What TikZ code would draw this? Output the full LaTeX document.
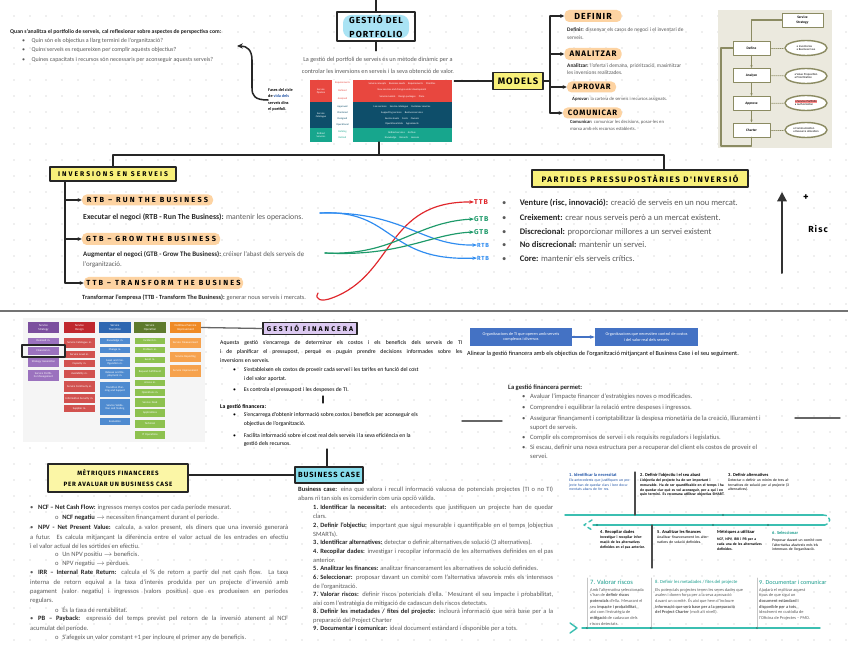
\documentclass[tikz,border=0pt]{standalone}
\usepackage{fontspec}
\setmainfont{Carlito}
\newfontfamily\hand[LetterSpace=12]{Fira Sans}
\usetikzlibrary{arrows.meta,shapes.geometric}
\newcommand{\fsz}[2]{\fontsize{#1}{#2}\selectfont}
\newcommand{\kw}[1]{\textbf{\color{black!85}#1}}
\newcommand{\bul}[1]{\makebox[#1][l]{\textbullet}}
\newcommand{\hb}[1]{\hangindent=#1\hangafter=1\noindent\makebox[#1][l]{\textbullet}}
\newcommand{\wide}{\addfontfeature{LetterSpace=30}}
\definecolor{dotgray}{HTML}{BDBDBD}
\definecolor{peach}{HTML}{FDD3A2}
\definecolor{hlyellow}{HTML}{F8F07A}
\definecolor{paleyellow}{HTML}{FBF6A6}
\definecolor{skyfill}{HTML}{A9E3F4}
\definecolor{lavfill}{HTML}{DCC9F1}
\definecolor{cyanfill}{HTML}{86DCEB}
\definecolor{txtgray}{HTML}{5A5A5A}
\definecolor{pfred}{HTML}{E8473F}
\definecolor{pfnavy}{HTML}{0E4E6A}
\definecolor{pfgreen}{HTML}{17A68D}
\definecolor{beige}{HTML}{EBE9DE}
\definecolor{olive}{HTML}{8B8B62}
\definecolor{tlteal}{HTML}{3BBFB1}
\definecolor{tlhead}{HTML}{1A9C8C}
\definecolor{tlblue}{HTML}{2356A8}
\definecolor{boxblue}{HTML}{4472C4}
\definecolor{rtbblue}{HTML}{2F8CF0}
\definecolor{gtbgreen}{HTML}{1E9A6A}
\definecolor{ttbred}{HTML}{E0262B}
\definecolor{stratD}{HTML}{7B4F9E}
\definecolor{stratL}{HTML}{9B72BE}
\definecolor{desD}{HTML}{C0282E}
\definecolor{desL}{HTML}{D2524F}
\definecolor{trD}{HTML}{2E67B1}
\definecolor{trL}{HTML}{4F8BD0}
\definecolor{opD}{HTML}{5E7A2C}
\definecolor{opL}{HTML}{8DC14F}
\definecolor{csiD}{HTML}{EF8A25}
\definecolor{csiL}{HTML}{F6A24D}
\tikzset{
  conn/.style={line width=1.1pt, draw=black!85},
  tip/.style={-{Stealth[length=3.5pt,width=3.2pt]}},
  hbox/.style={draw=black!85, line width=1.4pt, inner sep=0pt, align=center},
  pill/.style={fill=peach, rounded corners=4pt, inner sep=0pt},
  txt/.style={anchor=west, inner sep=0pt, text=txtgray, align=left},
  parblk/.style={anchor=north west, inner sep=0pt, text=txtgray, align=justify},
  lbl/.style={anchor=west, inner sep=0pt, font=\hand\bfseries\fsz{6}{6}},
  pftxt/.style={inner sep=0pt, align=center, font=\fsz{2.2}{2.6}},
  mbox/.style={draw=olive, line width=0.8pt, fill=white, inner sep=0pt, align=center,
    font=\bfseries\fsz{3}{3.6}, minimum height=0.42cm},
  mell/.style={ellipse, draw=olive, line width=1.2pt, fill=white, inner sep=0pt, align=left,
    font=\fsz{2.5}{3}, minimum width=1.26cm, minimum height=0.45cm},
  itilhd/.style={inner sep=0pt, align=center, text=white, font=\fsz{2.6}{3},
    minimum height=0.33cm, text width=0.95cm},
  itilit/.style={inner sep=0.3pt, align=center, text=white, font=\fsz{2.4}{2.8}, text width=0.88cm},
  tlhd/.style={anchor=west, inner sep=0pt, text=tlhead, font=\bfseries\fsz{3.8}{4.5}},
  tlbody/.style={anchor=north west, inner sep=0pt, align=left, font=\fsz{3.2}{3.9}},
}
\begin{document}
\begin{tikzpicture}[x=0.03cm,y=-0.03cm,line cap=round,line join=round]
\useasboundingbox (0,0) rectangle (848,656);
\fill[white] (0,0) rectangle (848,656);
% dotted paper
\foreach \i in {0,...,52}
  \foreach \j in {1,...,40}
    \fill[dotgray] ({14+16*\i},{16*\j}) circle (0.5pt);

% ===== gestio del portfolio
\node[txt, font=\bfseries\fsz{4.9}{5}, text=black!85] (qhead) at (10,32)
  {Quan s'analitza el portfolio de serveis, cal reflexionar sobre aspectes de perspectiva com:};
\node[txt, font=\fsz{5.1}{5}] (q1) at (22,41) {\bul{8pt}Quin són els objectius a llarg termini de l'organització?};
\node[txt, font=\fsz{5.1}{5}] (q2) at (22,50) {\bul{8pt}Quins serveis es requereixen per complir aquests objectius?};
\node[txt, font=\fsz{5.1}{5}] (q3) at (22,60) {\bul{8pt}Quines capacitats i recursos són necessaris per aconseguir aquests serveis?};
\coordinate (qarrow) at (237,46);

\fill[skyfill, rounded corners=7pt] (343,15) rectangle (409,38);
\node[hbox, minimum width=2.34cm, minimum height=0.87cm, font=\hand\bfseries\fsz{7.5}{12}] (gpbox)
  at (376,26.5) {GESTIÓ DEL\\PORTFOLIO};
\coordinate (gptop) at (376,0);
\draw[conn] (gptop) -- (gpbox.north);
\draw[conn] (gpbox.south) -- ++(0,9);
\node[inner sep=0pt, align=center, text=txtgray, font=\fsz{5.3}{10.2}] (pfintro) at (378,65)
  {La gestió del portfoli de serveis és un mètode dinàmic per a\\controlar les inversions en serveis i la seva obtenció de valor.};

\node[txt, text=black, font=\bfseries\fsz{3.6}{5.6}] (pfnote) at (268,100)
  {Fases del cicle\\de \textcolor{tlblue}{vida dels}\\serveis dins\\el portfoli.};
\draw[conn, line width=1.3pt, -{Stealth[length=5pt,width=4.5pt]}] (pfnote.west)
  .. controls (255,100) and (252,96) .. (252,88) -- (252,60)
  .. controls (252,50) and (247,46) .. (qarrow);

% portfolio table
\fill[pfred] (310,80) rectangle (332,102);
\fill[pfred] (353,80) rectangle (452,102);
\fill[pfnavy] (310,102) rectangle (332,128);
\fill[pfnavy] (353,102) rectangle (452,128);
\fill[pfgreen] (310,128) rectangle (332,142);
\fill[pfgreen] (353,128) rectangle (452,142);
\fill[white] (333,80) rectangle (352,142);
\node[pftxt, text=white] (pfpipe) at (321,91) {Service\\Pipeline};
\node[pftxt, text=white] (pfcat) at (321,115) {Service\\Catalogue};
\node[pftxt, text=white] (pfret) at (321,135) {Retired\\Services};
\node[pftxt, text=pfred] (st1) at (342.5,83) {Requirements};
\node[pftxt, text=pfred] (st2) at (342.5,91) {Defined};
\node[pftxt, text=pfred] (st3) at (342.5,99) {Analysed};
\node[pftxt, text=pfnavy] (st4) at (342.5,107) {Approved};
\node[pftxt, text=pfnavy] (st5) at (342.5,113) {Chartered};
\node[pftxt, text=pfnavy] (st6) at (342.5,119) {Designed};
\node[pftxt, text=pfnavy] (st7) at (342.5,125) {Operational};
\node[pftxt, text=pfgreen] (st8) at (342.5,132) {Retiring};
\node[pftxt, text=pfgreen] (st9) at (342.5,138) {Retired};
\node[pftxt, text=white] (pr1) at (402,84) {Service concepts \quad Business needs \quad Requirements \quad Priorities};
\node[pftxt, text=white] (pr2) at (402,90) {New services and changes under development};
\node[pftxt, text=white] (pr3) at (402,97) {Service models \quad Design packages \quad Plans};
\node[pftxt, text=white] (pr4) at (402,107) {Live services \quad Service catalogue \quad Customer services};
\node[pftxt, text=white] (pr5) at (402,113) {Supporting services \quad Business services};
\node[pftxt, text=white] (pr6) at (402,119) {Service levels \quad Costs \quad Owners};
\node[pftxt, text=white] (pr7) at (402,124) {Operational data \quad Agreements};
\node[pftxt, text=white] (pr8) at (402,133) {Retired services \quad Archive};
\node[pftxt, text=white] (pr9) at (402,138) {Knowledge \quad Records \quad Lessons};

% ===== models
\node[hbox, fill=hlyellow, minimum width=1.5cm, minimum height=0.51cm, font=\hand\bfseries\fsz{8}{9}] (models)
  at (518,81) {MODELS};
\coordinate (mbrk) at (550,81);
\draw[conn] (pfintro.east |- models.west) -- (models.west);
\draw[conn] (models.east) -- (mbrk);
\node[pill, minimum width=1.71cm, minimum height=0.36cm, font=\hand\bfseries\fsz{7.5}{8}] (pdef) at (593,16) {DEFINIR};
\node[pill, minimum width=1.71cm, minimum height=0.36cm, font=\hand\bfseries\fsz{6.8}{7}] (pana) at (593,54) {ANALITZAR};
\node[pill, minimum width=1.47cm, minimum height=0.33cm, font=\hand\bfseries\fsz{6.6}{7}] (papr) at (591.5,87) {APROVAR};
\node[pill, minimum width=1.77cm, minimum height=0.33cm, font=\hand\bfseries\fsz{6.6}{7}] (pcom) at (592.5,113) {COMUNICAR};
\draw[conn] (mbrk |- pdef.west) -- (mbrk |- pcom.west);
\foreach \n in {pdef,pana,papr,pcom}
  \draw[conn,tip] (mbrk |- \n.west) -- (\n.west);
\node[txt, font=\fsz{4.6}{6.2}] (ddef) at (567,33.5) {\kw{Definir:} dissenyar els casos de negoci i el inventari de\\serveis.};
\node[txt, font=\fsz{4.6}{6.2}] (dana) at (567,69) {\kw{Analitzar:} l'oferta i demana, priorització, maximitzar\\les inversions realitzades.};
\node[txt, font=\fsz{4}{5.5}] (dapr) at (572,99) {\kw{Aprovar:} la cartera de serveis i recursos assignats.};
\node[txt, font=\fsz{4}{5.5}] (dcom) at (570,125.5) {\kw{Comunicar:} comunicar les decisions, posar-les en\\marxa amb els recursos establerts.};

% model diagram
\fill[beige] (718,10) rectangle (832,148);
\node[mbox, minimum width=1.23cm] (mstrat) at (802.5,20) {Service\\Strategy};
\node[mbox, minimum width=1.11cm] (mdef) at (751.5,48) {Define};
\node[mbox, minimum width=1.11cm] (mana) at (751.5,75.5) {Analyze};
\node[mbox, minimum width=1.11cm] (mapp) at (751.5,103.5) {Approve};
\node[mbox, minimum width=1.11cm] (mcha) at (751.5,130) {Charter};
\node[mell] (edef) at (806,48) {\textbullet{} Inventories\\\textbullet{} Business Case};
\node[mell] (eana) at (806,76) {\textbullet{} Value Proposition\\\textbullet{} Prioritization};
\node[mell] (eapp) at (806,103) {{\setlength{\fboxsep}{0.3pt}\colorbox{red!45}{\textbullet{} Service Portfolio}}\\\textbullet{} Authorization};
\node[mell] (echa) at (806,130) {\textbullet{} Communication\\\textbullet{} Resource allocation};
\draw[olive, line width=1.6pt] (mstrat.west) -| (mdef.north);
\draw[olive, line width=1.6pt] (mcha.south) |- (721,146) |- (mdef.west);
\draw[olive, line width=1pt, -{Stealth[length=2.5pt]}] (mdef) -- (mana);
\draw[olive, line width=1pt, -{Stealth[length=2.5pt]}] (mana) -- (mapp);
\draw[olive, line width=1pt, -{Stealth[length=2.5pt]}] (mapp) -- (mcha);
\foreach \a/\b in {mdef/edef,mana/eana,mapp/eapp,mcha/echa}
  \draw[olive, line width=0.7pt, densely dotted] (\a) -- (\b);

% ===== inversions
\coordinate (hub) at (379,155);
\coordinate (pfbot) at (379,142);
\coordinate (partin) at (664,170);
\node[hbox, fill=hlyellow, minimum width=3.78cm, minimum height=0.42cm, font=\hand\bfseries\wide\fsz{5.8}{6}] (invbox)
  at (113,174) {INVERSIONS EN SERVEIS};
\node[hbox, fill=hlyellow, minimum width=6.48cm, minimum height=0.51cm, font=\hand\bfseries\addfontfeature{LetterSpace=20}\fsz{6.8}{7}] (partbox)
  at (640,178.5) {PARTIDES PRESSUPOSTÀRIES D'INVERSIÓ};
\draw[conn] (pfbot) -- (hub);
\draw[conn] (invbox.north) |- (hub) -| (partin);

\coordinate (ibrk) at (65,181);
\node[pill, minimum width=3.93cm, minimum height=0.33cm, font=\hand\bfseries\wide\fsz{6.3}{7}] (prtb) at (147.5,200) {RTB – RUN THE BUSINESS};
\node[pill, minimum width=4.14cm, minimum height=0.36cm, font=\hand\bfseries\wide\fsz{6.3}{7}] (pgtb) at (151,239) {GTB – GROW THE BUSINESS};
\node[pill, minimum width=4.77cm, minimum height=0.36cm, font=\hand\bfseries\wide\fsz{6.3}{7}] (pttb) at (163.5,283) {TTB – TRANSFORM THE BUSINES};
\draw[conn] (ibrk) -- (ibrk |- pttb.west);
\foreach \n in {prtb,pgtb,pttb}
  \draw[conn,tip] (ibrk |- \n.west) -- (\n.west);
\node[txt, font=\fsz{6.6}{7}] (drtb) at (83,217) {\kw{Executar el negoci (RTB - Run The Business):} mantenir les operacions.};
\node[txt, font=\fsz{5.9}{8.5}] (dgtb) at (83,260) {\kw{Augmentar el negoci (GTB - Grow The Business):} créixer l'abast dels serveis de\\l'organització.};
\node[txt, font=\fsz{5.4}{6}] (dttb) at (82,298) {\kw{Transformar l'empresa (TTB - Transform The Business):} generar nous serveis i mercats.};

\coordinate (rtbend) at (320,213);
\coordinate (gtbend) at (325,253);
\coordinate (ttbend) at (318,293);
\node[lbl, text=ttbred] (lttb) at (474,202) {TTB};
\node[lbl, text=gtbgreen] (lgtb1) at (474,219) {GTB};
\node[lbl, text=gtbgreen] (lgtb2) at (474,232) {GTB};
\node[lbl, text=rtbblue, font=\hand\bfseries\fsz{5}{5}] (lrtb1) at (477,245) {RTB};
\node[lbl, text=rtbblue, font=\hand\bfseries\fsz{5}{5}] (lrtb2) at (477,258) {RTB};
\draw[ttbred, line width=1pt, -{Stealth[length=4pt]}] (ttbend) .. controls (314,300) and (322,302) .. (332,298)
  .. controls (395,275) and (385,201) .. (lttb.west);
\draw[rtbblue, line width=1pt, -{Stealth[length=4pt]}] (rtbend) .. controls (395,209) and (385,262) .. (lrtb2.west);
\draw[rtbblue, line width=1pt, -{Stealth[length=4pt]}] (rtbend) .. controls (405,211) and (420,246) .. (lrtb1.west);
\draw[gtbgreen, line width=1pt, -{Stealth[length=4pt]}] (gtbend) .. controls (395,256) and (415,222) .. (lgtb1.west);
\draw[gtbgreen, line width=1pt, -{Stealth[length=4pt]}] (gtbend) .. controls (400,257) and (430,234) .. (lgtb2.west);

\node[txt, font=\fsz{7.3}{8}] (bven) at (502,203) {\bul{15pt}\kw{Venture (risc, innovació):} creació de serveis en un nou mercat.};
\node[txt, font=\fsz{7.3}{8}] (bcre) at (502,218) {\bul{15pt}\kw{Creixement:} crear nous serveis però a un mercat existent.};
\node[txt, font=\fsz{7.3}{8}] (bdis) at (502,232) {\bul{15pt}\kw{Discrecional:} proporcionar millores a un servei existent};
\node[txt, font=\fsz{7.3}{8}] (bnod) at (502,245) {\bul{15pt}\kw{No discrecional:} mantenir un servei.};
\node[txt, font=\fsz{7.3}{8}] (bcor) at (502,259) {\bul{15pt}\kw{Core:} mantenir els serveis crítics.};

\coordinate (riscbot) at (782,273);
\coordinate (risctop) at (782,192);
\draw[black!80, line width=1.7pt, -{Triangle[length=8pt,width=8pt]}] (riscbot) -- (risctop);
\node[inner sep=0pt, font=\hand\bfseries\fsz{9}{9}] (plus) at (806,198) {+};
\node[inner sep=0pt, font=\hand\bfseries\fsz{7.5}{8}] (risc) at (818,229) {Risc};

% ===== separator
\draw[black!55, line width=2.3pt] (0,311) -- (848,311);

% ===== ITIL table
\fill[gray!8] (23,318) rectangle (205,442);
\node[itilhd, fill=stratD] (hstr) at (43.5,327.5) {Service\\Strategy};
\node[itilhd, fill=desD] (hdes) at (79.5,327.5) {Service\\Design};
\node[itilhd, fill=trD] (htra) at (115,327.5) {Service\\Transition};
\node[itilhd, fill=opD] (hope) at (150,327.5) {Service\\Operation};
\node[itilhd, fill=csiD] (hcsi) at (185.5,327.5) {Continual Service\\Improvement};
\foreach \ya/\yb/\t [count=\k] in {338/344/Demand m., 347/355/Financial m., 357/367/Strategy Generation,
    370/381/Service Portfolio Management}
  \node[itilit, fill=stratL, minimum height={(\yb-\ya)*0.03cm}] (istr\k) at (43.5,{(\ya+\yb)/2}) {\t};
\foreach \ya/\yb/\t [count=\k] in {338/348/Service Catalogue m., 351/358/Service Level m., 360/367/Capacity m.,
    370/378/Availability m., 381/392/Service Continuity m., 394/403/Information Security m., 405/412/Supplier m.}
  \node[itilit, fill=desL, minimum height={(\yb-\ya)*0.03cm}] (ides\k) at (79.5,{(\ya+\yb)/2}) {\t};
\foreach \ya/\yb/\t [count=\k] in {338/344/Knowledge m., 347/353/Change m., 357/367/Asset and Configuration m.,
    369/379/Release and Deployment m., 382/397/Transition Planning and Support,
    399/415/Service Validation and Testing, 418/425/Evaluation}
  \node[itilit, fill=trL, minimum height={(\yb-\ya)*0.03cm}] (itra\k) at (115,{(\ya+\yb)/2}) {\t};
\foreach \ya/\yb/\t [count=\k] in {338/344/Incident m., 347/353/Problem m., 357/363/Event m.,
    367/377/Request Fulfillment, 380/386/Access m., 389/396/Operations m., 398/407/Service Desk,
    409/417/Applications, 420/428/Technical, 431/439/IT Operations}
  \node[itilit, fill=opL, minimum height={(\yb-\ya)*0.03cm}] (iope\k) at (150,{(\ya+\yb)/2}) {\t};
\foreach \ya/\yb/\t [count=\k] in {338/348/Service Measurement, 352/362/Service Reporting, 365/377/Service Improvement}
  \node[itilit, fill=csiL, minimum height={(\yb-\ya)*0.03cm}] (icsi\k) at (185.5,{(\ya+\yb)/2}) {\t};
\draw[black!85, line width=1pt] (22,345) rectangle (65,357);

% ===== gestio financera
\node[hbox, fill=lavfill, minimum width=2.82cm, minimum height=0.36cm, font=\hand\bfseries\wide\fsz{5.8}{6}] (gfbox)
  at (310,328.5) {GESTIÓ FINANCERA};
\draw[black!60, line width=1.1pt] (hcsi.east) -- (gfbox.west);
\node[parblk, text=black, text width=7.26cm, font=\fsz{4.9}{7.6}] (gfpar) at (220,340)
  {Aquesta gestió s'encarrega de determinar els costos i els beneficis dels serveis de TI\linebreak
   i de planificar el pressupost, perquè es puguin prendre decisions informades sobre les\linebreak
   inversions en serveis.};
\node[txt, text=black, font=\fsz{4.9}{7}] (gfb1) at (233,374.5)
  {\bul{9pt}S'estableixen els costos de proveir cada servei i les tarifes en funció del cost\\\hspace*{9pt}i del valor aportat.};
\node[txt, text=black, font=\fsz{4.9}{7}] (gfb2) at (233,390) {\bul{9pt}Es controla el pressupost i les despeses de TI.};
\coordinate (gfbar) at (323,396);
\draw[black!85, line width=1pt] (gfbar) -- ++(0,7);
\node[txt, text=black, font=\bfseries\fsz{4.9}{7}] (gfhd) at (220,407) {La gestió financera:};
\node[txt, text=black, font=\fsz{4.9}{7}] (gfb3) at (233,419.5)
  {\bul{9pt}S'encarrega d'obtenir informació sobre costos i beneficis per aconseguir els\\\hspace*{9pt}objectius de l'organització.};
\node[txt, text=black, font=\fsz{4.9}{7}] (gfb4) at (233,440)
  {\bul{9pt}Facilita informació sobre el cost real dels serveis i la seva eficiència en la\\\hspace*{9pt}gestió dels recursos.};

\node[fill=boxblue, text=white, inner sep=0pt, align=center, minimum width=3.06cm, minimum height=0.56cm,
  font=\fsz{3.6}{4.6}] (bb1) at (521,337) {Organitzacions de TI que operen amb serveis\\complexos i diversos};
\node[fill=boxblue, text=white, inner sep=0pt, align=center, minimum width=3.09cm, minimum height=0.56cm,
  font=\fsz{3.6}{4.6}] (bb2) at (646.5,337) {Organitzacions que necessiten control de costos\\i del valor real dels serveis};
\draw[boxblue, line width=1.6pt, -{Stealth[length=4pt]}] (bb1.east) -- (bb2.west);
\node[txt, text=black, font=\fsz{5.3}{6}] (bbnote) at (467,354)
  {Alinear la gestió financera amb els objectius de l'organització mitjançant el Business Case i el seu seguiment.};

\node[txt, text=black!85, font=\bfseries\fsz{5.6}{8}] (gfperm) at (508,388) {La gestió financera permet:};
\node[txt, font=\fsz{5.6}{8}] (gp1) at (522,397) {\bul{6.8pt}Avaluar l'impacte financer d'estratègies noves o modificades.};
\node[txt, font=\fsz{5.6}{8}] (gp2) at (522,408) {\bul{6.8pt}Comprendre i equilibrar la relació entre despeses i ingressos.};
\node[txt, font=\fsz{5.6}{8}] (gp3) at (522,423)
  {\bul{6.8pt}Assegurar finançament i comptabilitzar la despesa monetària de la creació, lliurament i\\\hspace*{6.8pt}suport de serveis.};
\node[txt, font=\fsz{5.6}{8}] (gp4) at (522,438) {\bul{6.8pt}Complir els compromisos de servei i els requisits reguladors i legislatius.};
\node[txt, font=\fsz{5.6}{8}] (gp5) at (522,452)
  {\bul{6.8pt}Si escau, definir una nova estructura per a recuperar del client els costos de proveir el\\\hspace*{6.8pt}servei.};
\coordinate (gl1) at (462,421);
\coordinate (gl2) at (795,418);
\draw[black!60, line width=1.2pt] (gl1) -- ++(40,0);
\draw[black!60, line width=1.2pt] (gl2) -- ++(45,0);

% ===== metriques + business case
\node[hbox, fill=paleyellow, minimum width=4.2cm, minimum height=0.84cm, font=\hand\bfseries\fsz{5.3}{9.5}] (metbox)
  at (118,478) {MÈTRIQUES FINANCERES\\PER AVALUAR UN BUSINESS CASE};
\node[hbox, fill=cyanfill, minimum width=2.04cm, minimum height=0.48cm, font=\hand\bfseries\fsz{6.4}{7}] (bcbox)
  at (329,475) {BUSINESS CASE};
\draw[conn] (metbox.east |- bcbox.west) -- (bcbox.west);
\coordinate (gfout) at (327,449);
\draw[conn] (gfout) -- (gfout |- bcbox.north);

\node[parblk, text width=7.74cm, font=\fsz{5.6}{7.9}] (m1) at (30,505)
  {\hb{6.8pt}\kw{NCF – Net Cash Flow:} ingressos menys costos per cada període mesurat.};
\node[txt, font=\fsz{5.6}{7.9}] (s1) at (55,518) {\makebox[6pt][l]{o}\kw{NCF negatiu} $\rightarrow$ necessiten finançament durant el període.};
\node[parblk, text width=7.74cm, font=\fsz{5.6}{7.9}] (m2) at (30,525)
  {\hb{6.8pt}\kw{NPV - Net Present Value:} calcula, a valor present, els diners que una inversió generarà\linebreak
   a futur. Es calcula mitjançant la diferència entre el valor actual de les entrades en efectiu\linebreak
   i el valor actual de les sortides en efectiu.};
\node[txt, font=\fsz{5.6}{7.9}] (s2) at (55,555) {\makebox[6pt][l]{o}Un NPV positiu $\rightarrow$ beneficis.};
\node[txt, font=\fsz{5.6}{7.9}] (s3) at (55,564) {\makebox[6pt][l]{o}NPV negatiu $\rightarrow$ pèrdues.};
\node[parblk, text width=7.74cm, font=\fsz{5.6}{7.9}] (m3) at (30,570)
  {\hb{6.8pt}\kw{IRR – Internal Rate Return:} calcula el \% de retorn a partir del net cash flow. La taxa\linebreak
   interna de retorn equival a la taxa d'interès produïda per un projecte d'inversió amb\linebreak
   pagament (valor negatiu) i ingressos (valors positius) que es produeixen en períodes\linebreak
   regulars.};
\node[txt, font=\fsz{5.6}{7.9}] (s4) at (55,610) {\makebox[6pt][l]{o}És la taxa de rentabilitat.};
\node[parblk, text width=7.74cm, font=\fsz{5.6}{7.9}] (m4) at (30,616)
  {\hb{6.8pt}\kw{PB – Payback:} expressió del temps previst pel retorn de la inversió atenent al NCF\linebreak
   acumulat del període.};
\node[txt, font=\fsz{5.6}{7.9}] (s5) at (55,638) {\makebox[6pt][l]{o}S'afegeix un valor constant +1 per incloure el primer any de beneficis.};

\node[parblk, text width=7.65cm, font=\fsz{5.5}{7.35}] (bci) at (298,487)
  {\kw{Business case:} eina que valora i recull informació valuosa de potencials projectes (TI o no TI)\linebreak
   abans ni tan sols es considerin com una opció vàlida.};
\foreach \yy/\t [count=\k] in {
    505/{\kw{Identificar la necessitat:} els antecedents que justifiquen un projecte han de quedar\linebreak clars.},
    523/{\kw{Definir l'objectiu:} important que sigui mesurable i quantificable en el temps (objectius\linebreak SMARTs).},
    540/{\kw{Identificar alternatives:} detectar o definir alternatives de solució (3 alternatives).},
    549/{\kw{Recopilar dades:} investigar i recopilar informació de les alternatives definides en el pas\linebreak anterior.},
    566/{\kw{Analitzar les finances:} analitzar financerament les alternatives de solució definides.},
    575/{\kw{Seleccionar:} proposar davant un comitè com l'alternativa afavoreix més els interessos\linebreak de l'organització.},
    592/{\kw{Valorar riscos:} definir riscos potencials d'ella. Mesurant el seu impacte i probabilitat,\linebreak així com l'estratègia de mitigació de cadascun dels riscos detectats.},
    609/{\kw{Definir les metadades / fites del projecte:} inclourà informació que serà base per a la\linebreak preparació del Project Charter},
    626/{\kw{Documentar i comunicar:} ideal document estàndard i disponible per a tots.}}
  \node[parblk, text width=7.2cm, font=\fsz{5.5}{7.35}] (bc\k) at (313,\yy)
    {\hangindent=6pt\hangafter=1\noindent\makebox[6pt][l]{\kw{\k.}}\t};

% ===== business case timeline
\draw[tlteal, line width=1.2pt] (565,515) -- (823,515);
\draw[tlteal, line width=1.2pt, dashed] (823,515) .. controls (832,515) and (832,525) .. (823,525);
\draw[tlteal, line width=1.2pt] (825,525) -- (593,525);
\draw[tlteal, line width=1.2pt, dashed] (592,520) -- (584,525) -- (592,530);
\draw[tlteal, line width=1.2pt] (582,628) -- (820,628);
\draw[tlteal, line width=1.2pt] (570,623) -- (577,628) -- (570,633);
\draw[black!70, line width=1pt] (635,472) -- (635,515);
\draw[black!70, line width=1pt] (652,525) -- (652,568);
\foreach \xx in {587,651,757}
  \draw[gray!45, line width=0.8pt] (\xx,578) -- (\xx,628);
\foreach \xx in {723}
  \fill[tlteal!70!black] (\xx,515) circle (1pt);
\foreach \xx in {597,713,768}
  \fill[tlteal!70!black] (\xx,525) circle (1pt);
\foreach \xx in {587,651,757}
  \fill[tlteal!70!black] (\xx,628) circle (1pt);

\node[tlhd, text=tlblue] (t1h) at (569,475) {1. Identificar la necessitat};
\node[tlbody, text=tlblue, text width=1.89cm] (t1) at (569,479)
  {Els antecedents que justifiquen un projecte han de quedar clars i ben documentats abans de fer res.};
\node[tlhd, text=black] (t2h) at (640,475) {2. Definir l'objectiu i el seu abast};
\node[tlbody, text=black, text width=2.55cm, font=\bfseries\fsz{3.2}{3.9}] (t2) at (640,479)
  {L'objectiu del projecte ha de ser important i mesurable. Ha de ser quantificable en el temps i ha de quedar clar què es vol aconseguir, per a qui i en quin termini. Es recomana utilitzar objectius SMART.};
\node[tlhd, text=black] (t3h) at (728,475) {3. Definir alternatives};
\node[tlbody, text=black, text width=1.95cm] (t3) at (728,479)
  {Detectar o definir un mínim de tres alternatives de solució per al projecte (3 alternatives).};
\node[tlhd, text=black] (t4h) at (600,532) {4. Recopilar dades};
\node[tlbody, text=black, text width=1.35cm, font=\bfseries\fsz{3.2}{3.9}] (t4) at (600,536)
  {Investigar i recopilar informació de les alternatives definides en el pas anterior.};
\node[tlhd, text=black] (t5h) at (657,532) {5. Analitzar les finances};
\node[tlbody, text=black, text width=1.65cm] (t5) at (657,536)
  {Analitzar financerament les alternatives de solució definides.};
\node[tlhd, text=black] (t5bh) at (717,532) {Mètriques a utilitzar};
\node[tlbody, text=black, text width=1.35cm, font=\bfseries\fsz{3.2}{3.9}] (t5b) at (717,538)
  {NCF, NPV, IRR i PB per a cada una de les alternatives definides.};
\node[tlhd] (t6h) at (772,533) {6. Seleccionar};
\node[tlbody, text=black, text width=1.56cm] (t6) at (772,539)
  {Proposar davant un comitè com l'alternativa afavoreix més els interessos de l'organització.};

\node[tlhd, font=\fsz{5.6}{6}] (t7h) at (590,582) {7. Valorar riscos};
\node[tlbody, text=txtgray, font=\fsz{3.7}{4.8}] (t7) at (590,588)
  {Amb l'alternativa seleccionada\\s'han de \textbf{definir riscos}\\\textbf{potencials} d'ella. Mesurant el\\seu \textbf{impacte i probabilitat},\\així com l'estratègia de\\\textbf{mitigació} de cadascun dels\\riscos detectats.};
\node[tlhd, font=\fsz{4}{5}] (t8h) at (655,582) {8. Definir les metadades / fites del projecte};
\node[tlbody, text=txtgray, font=\fsz{3.7}{4.8}] (t8) at (655,588)
  {Els potencials projectes tenen les seves dades que\\avalen i donen força per a la seva aprovació\\davant un comitè. És així que hem d'incloure\\\textbf{informació que serà base per a la preparació}\\\textbf{del Project Charter} (molt alt nivell).};
\node[tlhd, font=\fsz{5.2}{6}] (t9h) at (759,582) {9. Documentar i comunicar};
\node[tlbody, text=txtgray, font=\fsz{3.7}{4.8}] (t9) at (759,588)
  {Ajudarà el realitzar aquest\\tipus de que sigui un\\\textbf{document estàndard i}\\\textbf{disponible per a tots},\\idealment en custòdia de\\l'Oficina de Projectes – PMO.};
\end{tikzpicture}
\end{document}
